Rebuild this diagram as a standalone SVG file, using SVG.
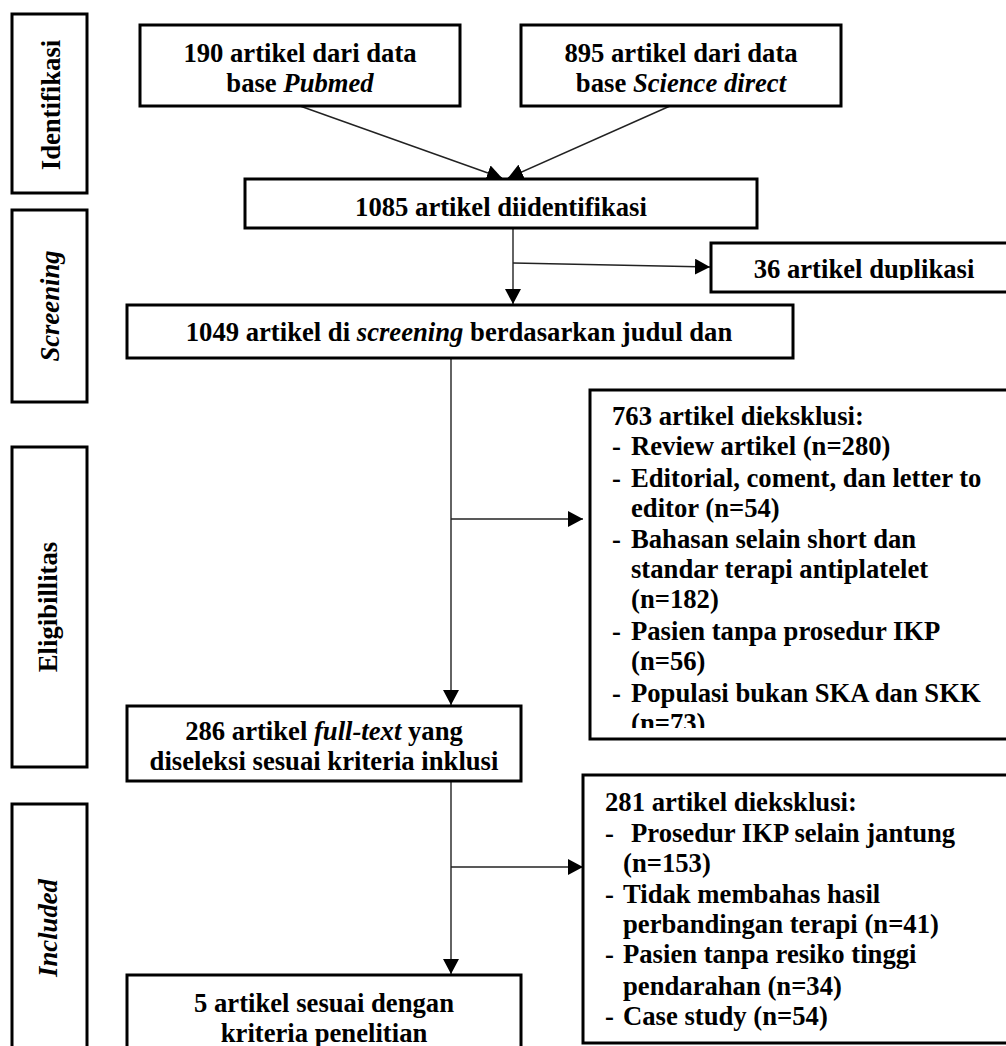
<svg xmlns="http://www.w3.org/2000/svg" width="1006" height="1046" viewBox="0 0 1006 1046">
<style>
text{font-family:"Liberation Serif","Times New Roman",serif;font-weight:bold;font-size:26.67px;fill:#000}
.c{text-anchor:middle}
.i{font-style:italic}
.box{fill:#fff;stroke:#000;stroke-width:3}
.con{fill:none;stroke:#222;stroke-width:1.4}
</style>
<defs>
<marker id="ah" markerUnits="userSpaceOnUse" markerWidth="16" markerHeight="16" refX="15" refY="8" orient="auto">
<path d="M0,0 L15,8 L0,16 Z" fill="#000"/>
</marker>
<clipPath id="clip36"><rect x="711" y="243" width="300" height="37"/></clipPath>
<clipPath id="clip763"><rect x="590" y="390" width="420" height="338"/></clipPath>
<clipPath id="clip286"><rect x="127" y="706" width="394" height="66"/></clipPath>
</defs>
<rect width="1006" height="1046" fill="#fff"/>

<g id="stage-identifikasi">
<rect class="box" x="12" y="14" width="75" height="179"/>
<text class="c" transform="translate(60,105) rotate(-90)">Identifikasi</text>
</g>
<g id="stage-screening">
<rect class="box" x="12" y="210" width="75" height="192"/>
<text class="c i" transform="translate(59,306) rotate(-90)">Screening</text>
</g>
<g id="stage-eligibilitas">
<rect class="box" x="12" y="447" width="75" height="320"/>
<text class="c" transform="translate(57,607) rotate(-90)">Eligibillitas</text>
</g>
<g id="stage-included">
<rect class="box" x="12" y="804" width="75" height="260"/>
<text class="c i" transform="translate(57,928) rotate(-90)">Included</text>
</g>

<g id="connectors">
<line class="con" x1="300" y1="106" x2="502" y2="178" marker-end="url(#ah)"/>
<line class="con" x1="670" y1="106" x2="508" y2="178" marker-end="url(#ah)"/>
<line class="con" x1="513" y1="228" x2="513" y2="304" marker-end="url(#ah)"/>
<line class="con" x1="513" y1="263" x2="710" y2="267" marker-end="url(#ah)"/>
<line class="con" x1="451" y1="358" x2="451" y2="705" marker-end="url(#ah)"/>
<line class="con" x1="451" y1="519" x2="583" y2="519" marker-end="url(#ah)"/>
<line class="con" x1="451" y1="781" x2="451" y2="974" marker-end="url(#ah)"/>
<line class="con" x1="451" y1="867" x2="583" y2="867" marker-end="url(#ah)"/>
</g>

<g id="n-pubmed">
<rect class="box" x="140" y="25" width="320" height="81"/>
<text class="c" x="300" y="62">190 artikel dari data</text>
<text class="c" x="300" y="92">base <tspan class="i">Pubmed</tspan></text>
</g>
<g id="n-sciencedirect">
<rect class="box" x="521" y="25" width="320" height="81"/>
<text class="c" x="681" y="62">895 artikel dari data</text>
<text class="c" x="681" y="92">base <tspan class="i">Science direct</tspan></text>
</g>
<g id="n-identified">
<rect class="box" x="245" y="179" width="512" height="49"/>
<text class="c" x="501" y="216">1085 artikel diidentifikasi</text>
</g>
<g id="n-duplicates">
<rect class="box" x="711" y="243" width="310" height="49"/>
<text class="c" x="864" y="278" clip-path="url(#clip36)">36 artikel duplikasi</text>
</g>
<g id="n-screening">
<rect class="box" x="127" y="305" width="666" height="53"/>
<text class="c" x="459" y="341">1049 artikel di <tspan class="i">screening</tspan> berdasarkan judul dan</text>
</g>
<g id="n-excluded1">
<rect class="box" x="590" y="390" width="430" height="349"/>
<g clip-path="url(#clip763)">
<text x="612" y="425">763 artikel dieksklusi:</text>
<text x="612" y="455">-</text><text x="631" y="455">Review artikel (n=280)</text>
<text x="612" y="487">-</text><text x="631" y="487">Editorial, coment, dan letter to</text>
<text x="631" y="517">editor (n=54)</text>
<text x="612" y="548">-</text><text x="631" y="548">Bahasan selain short dan</text>
<text x="631" y="578">standar terapi antiplatelet</text>
<text x="631" y="608">(n=182)</text>
<text x="612" y="640">-</text><text x="631" y="640">Pasien tanpa prosedur IKP</text>
<text x="631" y="670">(n=56)</text>
<text x="612" y="702">-</text><text x="631" y="702">Populasi bukan SKA dan SKK</text>
<text x="631" y="732">(n=73)</text>
</g>
</g>
<g id="n-fulltext">
<rect class="box" x="127" y="706" width="394" height="75"/>
<g clip-path="url(#clip286)">
<text class="c" x="324" y="740">286 artikel <tspan class="i">full-text</tspan> yang</text>
<text class="c" x="324" y="770">diseleksi sesuai kriteria inklusi</text>
</g>
</g>
<g id="n-excluded2">
<rect class="box" x="583" y="775" width="440" height="268"/>
<text x="605" y="811">281 artikel dieksklusi:</text>
<text x="605" y="842">-</text><text x="631" y="842">Prosedur IKP selain jantung</text>
<text x="623" y="872">(n=153)</text>
<text x="605" y="903">-</text><text x="623" y="903">Tidak membahas hasil</text>
<text x="623" y="933">perbandingan terapi (n=41)</text>
<text x="605" y="963">-</text><text x="623" y="963">Pasien tanpa resiko tinggi</text>
<text x="623" y="995">pendarahan (n=34)</text>
<text x="605" y="1025">-</text><text x="623" y="1025">Case study (n=54)</text>
</g>
<g id="n-included">
<rect class="box" x="127" y="975" width="394" height="90"/>
<text class="c" x="324" y="1012">5 artikel sesuai dengan</text>
<text class="c" x="324" y="1042">kriteria penelitian</text>
</g>
</svg>
